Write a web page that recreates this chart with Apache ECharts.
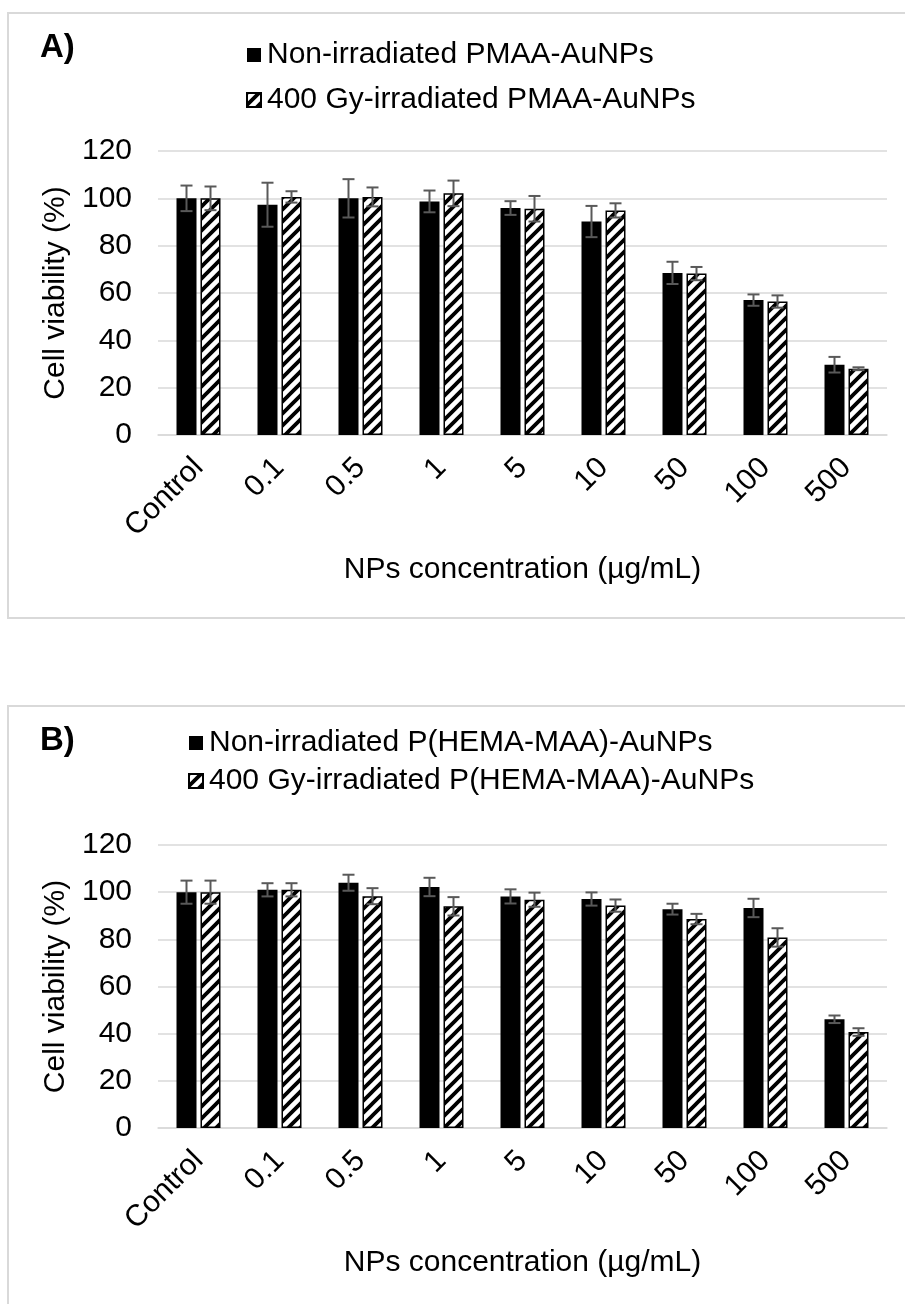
<!DOCTYPE html>
<html>
<head>
<meta charset="utf-8">
<script src="https://cdn.jsdelivr.net/npm/echarts@6/dist/echarts.min.js"></script>
<style>
html,body{margin:0;padding:0;background:#fff;}
#chart{width:905px;height:1304px;}
</style>
</head>
<body>
<div id="chart"></div>
<script>
// ---- data ----
const categories = ['Control', '0.1', '0.5', '1', '5', '10', '50', '100', '500'];
const yTicks = [0, 20, 40, 60, 80, 100, 120];

const seriesNamesA = ['Non-irradiated PMAA-AuNPs', '400 Gy-irradiated PMAA-AuNPs'];
const nonIrrA = [100, 97.3, 100, 98.7, 95.9, 90.2, 68.5, 57.0, 29.7];
const nonIrrAErr = [5.4, 9.3, 8.1, 4.6, 2.9, 6.6, 4.7, 2.4, 3.3];
const irrA = [100, 100.6, 100.6, 102.1, 95.6, 94.9, 68.2, 56.4, 28.0];
const irrAErr = [5.0, 2.4, 4.0, 5.4, 5.4, 3.0, 2.8, 2.6, 0.6];

const seriesNamesB = ['Non-irradiated P(HEMA-MAA)-AuNPs', '400 Gy-irradiated P(HEMA-MAA)-AuNPs'];
const nonIrrB = [100, 101, 104, 102.2, 98.2, 97.1, 92.8, 93.3, 46.1];
const nonIrrBErr = [4.9, 2.8, 3.4, 3.9, 3.0, 2.8, 2.3, 3.9, 1.6];
const irrB = [100, 101, 98.3, 94.0, 96.8, 94.3, 88.6, 80.8, 40.7];
const irrBErr = [4.9, 2.8, 3.4, 3.9, 3.0, 2.6, 2.2, 3.9, 1.6];

const yTitle = 'Cell viability (%)';
const xTitle = 'NPs concentration (µg/mL)';

// ---- styles ----
const FONT = "'Liberation Sans', Arial, sans-serif";
const FS = 30;

function hatchPattern() {
  const s = 12;
  const c = document.createElement('canvas');
  c.width = s; c.height = s;
  const g = c.getContext('2d');
  g.fillStyle = '#fff';
  g.fillRect(0, 0, s, s);
  g.strokeStyle = '#000';
  g.lineWidth = 3.8;
  g.beginPath();
  for (let k = -1; k <= 1; k++) {
    g.moveTo(-2 + k * s, s + 2); g.lineTo(s + 2 + k * s, -2);
  }
  g.stroke();
  return c;
}
const hatch = hatchPattern();

const BAR_W = 20;
const OFFSET = 12;

function errData(vals, errs) {
  return vals.map((v, i) => [i, v, errs[i]]);
}
function errSeries(vals, errs, off, idx) {
  return {
    type: 'custom',
    xAxisIndex: idx, yAxisIndex: idx,
    z: 10,
    silent: true,
    data: errData(vals, errs),
    renderItem: function (params, api) {
      const x = api.value(0), v = api.value(1), e = api.value(2);
      const t = api.coord([x, v + e]);
      const b = api.coord([x, v - e]);
      const cx = t[0] + off;
      const cap = 6;
      const st = { stroke: '#595959', lineWidth: 2 };
      return {
        type: 'group',
        children: [
          { type: 'line', shape: { x1: cx, y1: t[1], x2: cx, y2: b[1] }, style: st },
          { type: 'line', shape: { x1: cx - cap, y1: t[1], x2: cx + cap, y2: t[1] }, style: st },
          { type: 'line', shape: { x1: cx - cap, y1: b[1], x2: cx + cap, y2: b[1] }, style: st }
        ]
      };
    }
  };
}

function xAxis(idx) {
  return {
    type: 'category', gridIndex: idx, data: categories,
    axisLine: { lineStyle: { color: '#d9d9d9', width: 1.5 } },
    axisTick: { show: false },
    axisLabel: { rotate: 45, margin: 28, color: '#000', fontSize: FS, fontFamily: FONT, interval: 0 },
    name: xTitle, nameLocation: 'middle', nameGap: 120,
    nameTextStyle: { color: '#000', fontSize: FS, fontFamily: FONT }
  };
}
function yAxis(idx) {
  return {
    type: 'value', gridIndex: idx, min: yTicks[0], max: yTicks[yTicks.length - 1], interval: 20,
    axisLine: { show: false }, axisTick: { show: false },
    splitLine: { lineStyle: { color: '#d9d9d9', width: 1.5 } },
    axisLabel: { margin: 26, color: '#000', fontSize: FS, fontFamily: FONT },
    name: yTitle, nameLocation: 'middle', nameGap: 82,
    nameTextStyle: { color: '#000', fontSize: FS, fontFamily: FONT }
  };
}
function barSeries(name, vals, idx, hatched) {
  return {
    type: 'bar', name: name, xAxisIndex: idx, yAxisIndex: idx,
    data: vals, barWidth: BAR_W, barGap: '20%',
    itemStyle: hatched
      ? { color: { image: hatch, repeat: 'repeat' }, borderColor: '#000', borderWidth: 1.5 }
      : { color: '#000', borderColor: '#000', borderWidth: 0 }
  };
}

const chart = echarts.init(document.getElementById('chart'), null, { renderer: 'canvas' });
chart.setOption({
  animation: false,
  backgroundColor: '#fff',
  textStyle: { fontFamily: FONT },
  graphic: [
    { type: 'rect', shape: { x: 8, y: 13, width: 905, height: 605 }, style: { fill: 'none', stroke: '#d9d9d9', lineWidth: 2 }, z: -10 },
    { type: 'rect', shape: { x: 8, y: 706, width: 905, height: 700 }, style: { fill: 'none', stroke: '#d9d9d9', lineWidth: 2 }, z: -10 },
    { type: 'text', left: 40, top: 31, style: { text: 'A)', font: "bold 33px 'Liberation Sans', Arial, sans-serif", fill: '#000' } },
    { type: 'text', left: 40, top: 724, style: { text: 'B)', font: "bold 33px 'Liberation Sans', Arial, sans-serif", fill: '#000' } }
  ],
  legend: [
    { data: seriesNamesA, orient: 'vertical', left: 246, top: 40, itemWidth: 14, itemHeight: 14, itemGap: 15,
      icon: 'rect', selectedMode: false, padding: 0,
      textStyle: { fontSize: FS, fontFamily: FONT, color: '#000', padding: [0, 0, 0, 1] } },
    { data: seriesNamesB, orient: 'vertical', left: 188, top: 728, itemWidth: 14, itemHeight: 14, itemGap: 8,
      icon: 'rect', selectedMode: false, padding: 0,
      textStyle: { fontSize: FS, fontFamily: FONT, color: '#000', padding: [0, 0, 0, 1] } }
  ],
  grid: [
    { left: 158, top: 151, width: 729, height: 284 },
    { left: 158, top: 845, width: 729, height: 283 }
  ],
  xAxis: [xAxis(0), xAxis(1)],
  yAxis: [yAxis(0), yAxis(1)],
  series: [
    barSeries(seriesNamesA[0], nonIrrA, 0, false),
    barSeries(seriesNamesA[1], irrA, 0, true),
    errSeries(nonIrrA, nonIrrAErr, -OFFSET, 0),
    errSeries(irrA, irrAErr, OFFSET, 0),
    barSeries(seriesNamesB[0], nonIrrB, 1, false),
    barSeries(seriesNamesB[1], irrB, 1, true),
    errSeries(nonIrrB, nonIrrBErr, -OFFSET, 1),
    errSeries(irrB, irrBErr, OFFSET, 1)
  ]
});
</script>
</body>
</html>
